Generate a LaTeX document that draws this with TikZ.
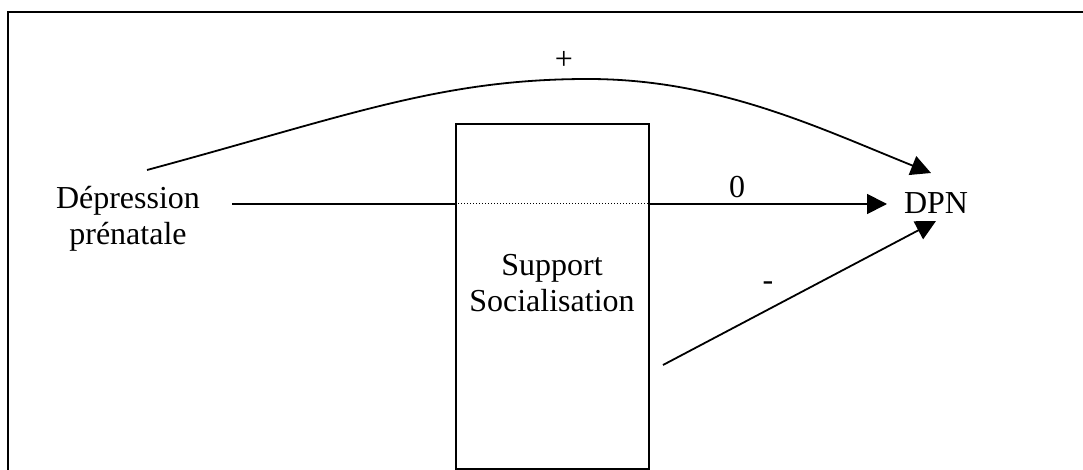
\documentclass[tikz,border=0pt]{standalone}
\usepackage{fontspec}
\setmainfont{Liberation Serif}
\usetikzlibrary{arrows.meta}
\begin{document}
\begin{tikzpicture}[x=1pt,y=-1pt,
  lbl/.style={font=\fontsize{32}{36}\selectfont, inner sep=0pt, align=center},
  conn/.style={line width=1.8pt},
  arr/.style={conn, -{Triangle[length=20pt,width=20pt]}},
  frame/.style={line width=2.4pt},
  boxst/.style={draw, line width=1.8pt, rectangle, minimum width=193pt, minimum height=345pt, inner sep=0pt}]
\useasboundingbox (0,0) rectangle (1083,470);
% frame
\coordinate (fa) at (1084,12);
\coordinate (fb) at (8,12);
\coordinate (fc) at (8,472);
\draw[frame] (fa) -- (fb) -- (fc);
% box
\node[boxst] (box) at (552.5,296.5) {};
\node[lbl] (sup) at (552,283) {Support\\Socialisation};
% nodes
\node[lbl] (dep) at (128,219) {Dépression\\prénatale};
\node[lbl] (dpn) at (936,203) {DPN};
% coordinates
\coordinate (hs) at (232,204);
\coordinate (hl) at (box.west |- hs);
\coordinate (hr) at (box.east |- hs);
\coordinate (he) at (887,204);
\coordinate (cs) at (147,170);
\coordinate (cp) at (588,79);
\coordinate (ce) at (931,173);
\coordinate (ls) at (663,365);
\coordinate (le) at (936,221);
% connectors
\draw[conn] (hs) -- (hl);
\draw[line width=1pt, dotted] (hl) -- (hr);
\draw[arr] (hr) -- (he);
\draw[arr] (cs) .. controls (347,116) and (440,79) .. (cp) .. controls (718,79) and (819,128) .. (ce);
\draw[arr] (ls) -- (le);
% labels
\node[lbl] (plus) at (564,60) {+};
\node[lbl] (zero) at (737,187) {0};
\node[lbl] (minus) at (768,286) {-};
\end{tikzpicture}
\end{document}
